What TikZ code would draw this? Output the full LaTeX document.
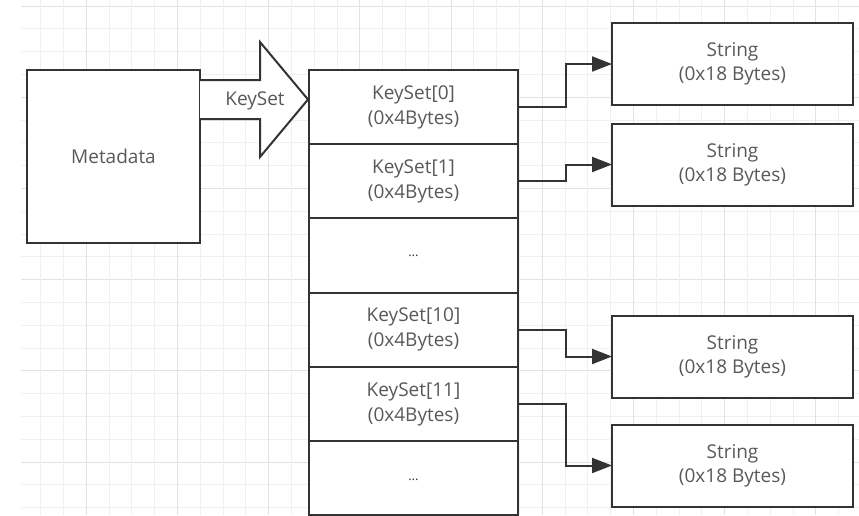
\documentclass[tikz,border=0pt]{standalone}
\usepackage{fontspec}
\setmainfont{Open Sans}
\usepackage{tikz}
\usetikzlibrary{
  arrows.meta,
  calc,
  positioning
}
\definecolor{inkgray}{RGB}{51,51,51}
\definecolor{textgray}{RGB}{89,89,89}
\definecolor{gridlight}{RGB}{240,240,240}
\definecolor{griddark}{RGB}{226,226,226}
\tikzset{
  cell/.style={draw=inkgray,line width=2pt,fill=white,outer sep=0pt,
    minimum width=209pt,minimum height=74.2pt,inner sep=0pt,
    align=center,text=textgray,font=\fontsize{19}{25}\selectfont},
  metabox/.style={draw=inkgray,line width=2pt,fill=white,outer sep=0pt,
    minimum width=173pt,minimum height=173pt,
    align=center,text=textgray,font=\fontsize{19}{25}\selectfont},
  strbox/.style={draw=inkgray,line width=2pt,fill=white,outer sep=0pt,
    minimum width=241pt,minimum height=82pt,
    align=center,text=textgray,font=\fontsize{19}{24}\selectfont},
  bigarrow/.style={draw=inkgray,line width=2pt,fill=white,line join=miter},
  ptrflow/.style={-{Triangle[length=20pt,width=15pt]},line width=2pt,draw=inkgray},
  lab/.style={text=textgray,font=\fontsize{19}{25}\selectfont,inner sep=0pt},
  dotcell/.style={cell,text=inkgray,font=\fontsize{13}{16}\selectfont}
}

\begin{document}
\begin{tikzpicture}[x=1pt,y=-1pt,node distance=0pt]
  \useasboundingbox (0,0) rectangle (859,515);
  \clip (0,0) rectangle (859,515);
  \fill[white] (0,0) rectangle (859,515);

  % background grid
  \foreach \k in {0,...,22} {
    \pgfmathsetmacro{\yy}{6+22.8*\k}
    \pgfmathtruncatemacro{\m}{mod(\k,4)}
    \ifnum\m=0 \def\gc{griddark}\else\def\gc{gridlight}\fi
    \draw[\gc,line width=1pt] (21,\yy) -- (859,\yy);
  }
  \foreach \k in {2,...,38} {
    \pgfmathsetmacro{\xx}{-5+22.8*\k}
    \pgfmathtruncatemacro{\m}{mod(\k,4)}
    \ifnum\m=0 \def\gc{griddark}\else\def\gc{gridlight}\fi
    \draw[\gc,line width=1pt] (\xx,0) -- (\xx,515);
  }

  \node[metabox] (meta) at (113.5,156.5) {Metadata};

  % key set column
  \node[cell,anchor=north west] (ks0) at (309,70) {KeySet[0]\\(0x4Bytes)};
  \node[cell,below=of ks0] (ks1) {KeySet[1]\\(0x4Bytes)};
  \node[dotcell,below=of ks1] (ksdots) {\raisebox{-3pt}{\dots}};
  \node[cell,below=of ksdots] (ks10) {KeySet[10]\\(0x4Bytes)};
  \node[cell,below=of ks10] (ks11) {KeySet[11]\\(0x4Bytes)};
  \node[dotcell,below=of ks11] (ksmore) {\raisebox{-5pt}{\dots}};

  % big arrow from metadata
  \draw[bigarrow] ($(meta.north east)+(0,10)$) -- ++(60,0) -- ++(0,-38)
    -- ++(48,57.5) -- ++(-48,57.5) -- ++(0,-38) -- ++(-60,0);
  \node[lab] (arrlab) at ($(meta.north east)+(55,31)$) {KeySet};

  % strings
  \node[strbox] (s0) at (732.5,64) {String\\(0x18 Bytes)};
  \node[strbox] (s1) at (732.5,164.5) {String\\(0x18 Bytes)};
  \node[strbox] (s10) at (732.5,356.5) {String\\(0x18 Bytes)};
  \node[strbox] (s11) at (732.5,465.5) {String\\(0x18 Bytes)};

  \draw[ptrflow] (ks0.east) -- ++(48,0) |- (s0.west);
  \draw[ptrflow] (ks1.east) -- ++(48,0) |- (s1.west);
  \draw[ptrflow] (ks10.east) -- ++(48,0) |- (s10.west);
  \draw[ptrflow] (ks11.east) -- ++(48,0) |- (s11.west);
\end{tikzpicture}
\end{document}
